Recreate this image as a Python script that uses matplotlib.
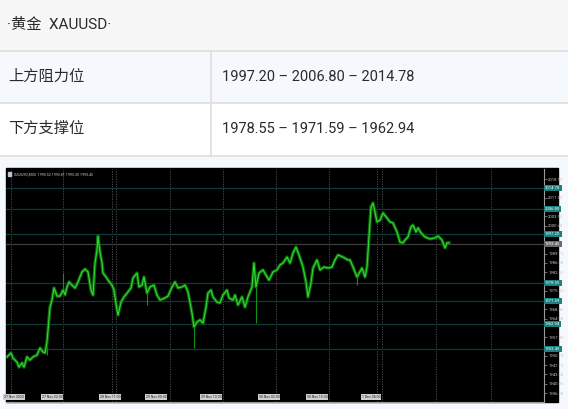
import numpy as np
import matplotlib.pyplot as plt
from matplotlib.patches import Rectangle

# figure size in pixels
W, H = 568, 409

# table text
title_text = '·黄金  XAUUSD·'
row_labels = ['上方阻力位', '下方支撑位']
row_values = ['1997.20 – 2006.80 – 2014.78', '1978.55 – 1971.59 – 1962.94']

# levels drawn on the chart
levels = [2014.78, 2006.80, 1997.20, 1978.55, 1971.59, 1962.94, 1953.40]
last_price = 1993.45

# price path (bar index, close)
bars = [0, 4, 6, 10, 12, 15, 17, 20, 23, 26, 30, 33, 36, 38, 40, 41, 43, 45, 47, 50,
        53, 56, 58, 60, 62, 65, 68, 71, 75, 78, 81, 84, 86, 88, 90, 91, 93, 95, 96, 99,
        101, 105, 107, 110, 111, 114, 117, 121, 124, 126, 130, 132, 135, 137, 140, 143,
        147, 150, 153, 158, 161, 165, 168, 171, 175, 178, 181, 185, 187, 190, 193, 196,
        199, 201, 204, 206, 210, 213, 216, 220, 222, 226, 228, 231, 235, 238, 241, 245,
        247, 249, 252, 256, 259, 262, 266, 270, 273, 276, 280, 283, 286, 289, 292, 296,
        299, 301, 304, 306, 310, 313, 317, 321, 325, 328, 331, 336, 341, 343, 346, 350,
        355, 358, 360, 362, 364, 366, 368, 370, 373, 376, 380, 383, 386, 390, 393, 396,
        398, 401, 404, 406, 409, 411, 414, 418, 423, 428, 431, 435, 438, 440, 442]
closes = [1950.3, 1951.8, 1949.9, 1948.3, 1946.4, 1948.0, 1946.4, 1950.3, 1949.1, 1950.3,
          1951.0, 1953.7, 1952.2, 1951.8, 1956.0, 1960.6, 1969.3, 1972.0, 1976.6, 1973.5,
          1973.5, 1975.8, 1974.0, 1977.0, 1978.9, 1977.7, 1976.6, 1978.9, 1982.7, 1983.8,
          1982.7, 1975.8, 1973.9, 1986.1, 1991.1, 1996.4, 1990.3, 1986.1, 1982.3, 1980.8,
          1979.6, 1977.7, 1975.8, 1968.2, 1966.3, 1971.2, 1973.2, 1975.1, 1976.6, 1980.4,
          1982.3, 1977.0, 1977.7, 1980.8, 1974.7, 1977.0, 1977.7, 1973.9, 1972.0, 1972.8,
          1973.5, 1977.0, 1978.9, 1976.6, 1977.0, 1977.7, 1975.1, 1967.0, 1961.7, 1963.6,
          1964.4, 1963.2, 1969.3, 1974.7, 1975.8, 1973.2, 1971.2, 1970.9, 1973.9, 1975.8,
          1972.8, 1972.0, 1973.9, 1970.1, 1973.2, 1969.3, 1973.2, 1977.0, 1986.1, 1977.0,
          1982.3, 1983.5, 1981.5, 1979.6, 1982.7, 1983.5, 1985.4, 1986.1, 1988.4, 1986.1,
          1989.9, 1992.2, 1989.2, 1984.6, 1978.9, 1973.2, 1978.5, 1984.2, 1987.3, 1983.5,
          1984.6, 1984.2, 1984.6, 1987.3, 1989.2, 1988.4, 1987.3, 1987.3, 1984.6, 1980.8,
          1984.2, 1980.8, 1984.6, 1996.1, 2007.5, 2009.0, 2005.6, 2001.8, 2002.5, 2005.2,
          2003.3, 2001.8, 2001.4, 1998.0, 1994.1, 1993.8, 1994.9, 1996.1, 1999.9, 2000.6,
          1998.0, 1999.5, 1997.6, 1996.1, 1995.3, 1995.7, 1996.4, 1994.9, 1991.9, 1993.8,
          1993.8]

# long wicks
wick_bars = [40, 56, 140, 187, 249, 350]
wick_ends = [1951.0, 1982.3, 1970.1, 1953.7, 1963.2, 1977.7]

# time separators and time axis labels
vgrid_bars = [4, 56, 105, 109, 163, 216, 269, 322, 370, 375, 429, 484]
date_bars = [7, 45, 103, 149, 204, 262, 310, 364]
date_labels = ['27 Nov 2023', '27 Nov 22:00', '28 Nov 11:00', '29 Nov 00:00',
               '29 Nov 13:00', '30 Nov 02:00', '30 Nov 15:00', '1 Dec 04:00']

plt.rcParams['font.family'] = ['Roboto', 'Noto Sans CJK SC', 'DejaVu Sans']

fig = plt.figure(figsize=(W / 100, H / 100), dpi=100)

# background in pixel coordinates
bg = fig.add_axes([0, 0, 1, 1])
bg.set_xlim(0, W)
bg.set_ylim(H, 0)
bg.axis('off')
bg.add_patch(Rectangle((0, 0), W, H, color='#f5f9fd', zorder=0))
bg.add_patch(Rectangle((0, 0), W, 51, color='#f7f7f7', zorder=1))
bg.add_patch(Rectangle((0, 103), W, 53, color='#ffffff', zorder=1))
for yy in [51, 103, 156]:
    bg.plot([0, W], [yy, yy], color='#dedede', lw=1.2, zorder=2)
bg.plot([211, 211], [51, 156], color='#dedede', lw=1.2, zorder=2)

bg.text(7, 25, title_text, fontsize=11, color='#2a2a2a', va='center', ha='left')
for i, (lab, val) in enumerate(zip(row_labels, row_values)):
    yc = 77 + i * 52
    bg.text(8, yc, lab, fontsize=11, color='#2a2a2a', va='center', ha='left')
    bg.text(222, yc, val, fontsize=10.5, color='#2a2a2a', va='center', ha='left')

# black screenshot frame incl. price scale
bg.add_patch(Rectangle((6, 168), 552, 234, color='#000000', zorder=3))

# chart axes
x0, y0, x1, y1 = 6, 169, 544, 402
ax = fig.add_axes([x0 / W, 1 - y1 / H, (x1 - x0) / W, (y1 - y0) / H])
ax.set_facecolor('#000000')
ax.set_xlim(-1, 537)
ax.set_ylim(1933.1, 2022.0)
for s in ['top', 'left']:
    ax.spines[s].set_visible(False)
for s in ['right', 'bottom']:
    ax.spines[s].set_color('#9a9a9a')
    ax.spines[s].set_linewidth(0.8)

# price scale ticks, skipping the ones hidden under the level boxes
ticks = np.arange(1936.50, 2021.0, 3.55)
marked = levels + [last_price]
ticks = [t for t in ticks if min(abs(t - m) for m in marked) > 1.9]
ax.set_xticks([])
ax.yaxis.tick_right()
ax.set_yticks(ticks)
ax.yaxis.set_major_formatter(plt.FuncFormatter(lambda v, p: f'{v:.2f}'))
ax.tick_params(axis='y', length=2, width=0.5, color='#9a9a9a', labelsize=3,
               labelcolor='#c8c8c8', pad=1)

for b in vgrid_bars:
    ax.axvline(b, color='#555555', lw=0.6, ls=(0, (1.5, 1.5)), zorder=1)

for lv in levels:
    ax.axhline(lv, color='#0d3b3b', lw=0.9, zorder=1)
    ax.text(1.002, lv, f'{lv:.2f}', transform=ax.get_yaxis_transform(), fontsize=3,
            color='#e8ffff', va='center', ha='left', clip_on=False, zorder=6,
            bbox=dict(facecolor='#1f8080', edgecolor='none', pad=0.8))
ax.axhline(last_price, color='#3e3e3e', lw=0.9, zorder=1)
ax.text(1.002, last_price, f'{last_price:.2f}', transform=ax.get_yaxis_transform(),
        fontsize=3, color='#ffffff', va='center', ha='left', clip_on=False, zorder=6,
        bbox=dict(facecolor='#6c6c6c', edgecolor='none', pad=0.8))

# candles approximated as a thick dark band plus a bright line
ax.vlines(wick_bars, [closes[bars.index(b)] for b in wick_bars], wick_ends,
          color='#129212', lw=0.8, zorder=3)
ax.plot(bars, closes, color='#0a6a0a', lw=2.4, zorder=3)
ax.plot(bars, closes, color='#34d834', lw=0.8, zorder=4)

# time axis label boxes
for b, lab in zip(date_bars, date_labels):
    ax.text(b, 1935.0, lab, fontsize=2.5, color='#222222', ha='center', va='center',
            zorder=6, bbox=dict(facecolor='#cfcfcf', edgecolor='none', pad=0.6))

# chart caption in the corner
ax.add_patch(Rectangle((1, 2019.2), 3, 1.6, color='#c0c0e0', zorder=6))
ax.text(7, 2020.0, 'XAUUSD,M30  1993.52 1993.81 1993.30 1993.45', fontsize=2.6,
        color='#c8c8c8', va='center', ha='left', zorder=6)

fig.savefig('out.png', dpi=100)
